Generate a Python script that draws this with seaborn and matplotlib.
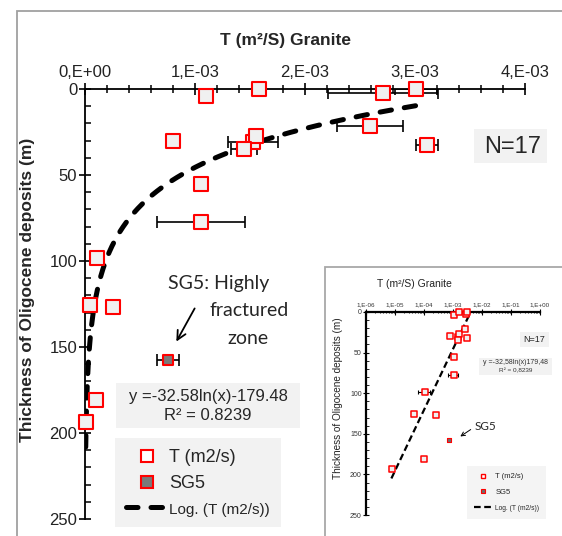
"""
Transmissivity vs thickness of Oligocene deposits (granite)
"""

import numpy as np
import pandas as pd
import matplotlib
matplotlib.use("Agg")
import matplotlib.pyplot as plt
import matplotlib.ticker as mticker
from matplotlib.patches import Rectangle
from matplotlib.lines import Line2D
import seaborn as sns

# Data
t_vals = [1.10e-3, 1.585e-3, 2.706e-3, 3.009e-3, 0.803e-3, 1.527e-3, 1.555e-3,
          1.448e-3, 2.59e-3, 3.106e-3, 1.055e-3, 1.055e-3, 0.110e-3, 0.045e-3,
          0.250e-3, 0.100e-3, 0.008e-3]
depth = [4, 0, 2.5, 0, 30, 30.6, 27.3, 34.9, 21.5, 32.6, 55.2, 77.1, 98,
         125.6, 126.5, 180.8, 193.8]
t_err = [0, 0, 0.5e-3, 0.19e-3, 0, 0.23e-3, 0, 0.12e-3, 0.3e-3, 0.1e-3, 0,
         0.4e-3, 0.05e-3, 0, 0, 0, 0]

sg5_t = [0.757e-3]
sg5_depth = [157.6]
sg5_err = [0.1e-3]

# log trend y = a*ln(x) + b
fit_a = -32.58
fit_b = -179.48
fit_range_main = (6.8e-6, 3.1e-3)
fit_range_inset = (7.5e-6, 3.7e-3)

x_ticks = [0, 1e-3, 2e-3, 3e-3, 4e-3]
x_tick_labels = ['0,E+00', '1,E-03', '2,E-03', '3,E-03', '4,E-03']
y_ticks = [0, 50, 100, 150, 200, 250]
log_ticks = [1e-6, 1e-5, 1e-4, 1e-3, 1e-2, 1e-1, 1e0]
log_tick_labels = ['1,E-06', '1,E-05', '1,E-04', '1,E-03', '1,E-02', '1,E-01', '1,E+00']

df = pd.DataFrame({'T': t_vals, 'depth': depth, 'err': t_err})
sg5 = pd.DataFrame({'T': sg5_t, 'depth': sg5_depth, 'err': sg5_err})


def trend(lo, hi):
    x = np.geomspace(lo, hi, 300)
    return pd.DataFrame({'T': x, 'depth': fit_a * np.log(x) + fit_b})


sns.set_theme(style='white')
plt.rcParams['font.family'] = ['Liberation Sans', 'DejaVu Sans']

W, H = 562, 536
fig = plt.figure(figsize=(W / 100, H / 100), dpi=100)

RED = '#ff0000'
FACE = '#f0f0f0'
BOX = '#f2f2f2'

# outer frame
fig.add_artist(Rectangle((17 / W, -0.01), 1, 1 - 11 / H + 0.01, transform=fig.transFigure,
                         fill=False, edgecolor='#a0a0a0', lw=1.3, zorder=-1))

# ---------------- main axes ----------------
ax = fig.add_axes([85 / W, 1 - 519 / H, 440 / W, 430 / H])
ax.set_facecolor('none')

tr = trend(*fit_range_main)
sns.lineplot(data=tr, x='T', y='depth', ax=ax, color='black', lw=3.6, sort=False,
             zorder=2, estimator=None)
ax.lines[-1].set_dashes((2.3, 2.6))
ax.lines[-1].set_dash_capstyle('round')

ax.errorbar(df['T'], df['depth'], xerr=df['err'], fmt='none', ecolor='black',
            elinewidth=1.2, capsize=4, capthick=1.2, zorder=3)
ax.errorbar(sg5['T'], sg5['depth'], xerr=sg5['err'], fmt='none', ecolor='black',
            elinewidth=1.2, capsize=4, capthick=1.2, zorder=3)
sns.scatterplot(data=df, x='T', y='depth', ax=ax, marker='s', s=100, color=FACE,
                edgecolor=RED, linewidth=1.5, zorder=4, clip_on=False)
sns.scatterplot(data=sg5, x='T', y='depth', ax=ax, marker='s', s=55, color='#7a7a7a',
                edgecolor=RED, linewidth=1.5, zorder=4)

ax.set_xlim(0, 4e-3)
ax.set_ylim(250, 0)
ax.xaxis.tick_top()
ax.set_xticks(x_ticks)
ax.set_xticklabels(x_tick_labels)
ax.xaxis.set_minor_locator(mticker.MultipleLocator(0.2e-3))
ax.set_yticks(y_ticks)
ax.yaxis.set_minor_locator(mticker.MultipleLocator(10))
ax.set_xlabel('')
ax.set_ylabel('')
for s in ['right', 'bottom']:
    ax.spines[s].set_visible(False)
for s in ['top', 'left']:
    ax.spines[s].set_color('black')
    ax.spines[s].set_linewidth(1.3)
ax.tick_params(axis='x', which='major', direction='inout', length=9, width=1.2,
               labelsize=12, pad=2, colors='black', top=True, bottom=False)
ax.tick_params(axis='x', which='minor', direction='inout', length=6, width=1.1,
               top=True, bottom=False, colors='black')
ax.tick_params(axis='y', which='major', direction='inout', length=9, width=1.2,
               labelsize=12, pad=1, colors='black', left=True)
ax.tick_params(axis='y', which='minor', direction='in', length=4, width=1.1,
               left=True, colors='black')
for lbl in ax.get_xticklabels() + ax.get_yticklabels():
    lbl.set_color('#222222')

fig.text(285 / W, 1 - 40 / H, 'T (m²/S) Granite', ha='center', va='center',
         fontsize=12.5, fontweight='bold')
fig.text(28 / W, 1 - 290 / H, 'Thickness of Oligocene deposits (m)', ha='center',
         va='center', rotation=90, fontsize=12.5, fontweight='bold')

# N=17 box
fig.add_artist(Rectangle((474 / W, 1 - 163 / H), 73 / W, 34 / H, transform=fig.transFigure,
                         facecolor=BOX, edgecolor='none', zorder=1))
fig.text(513 / W, 1 - 147 / H, 'N=17', ha='center', va='center', fontsize=17, zorder=2)

# SG5 annotation
ann_font = ['Lato', 'DejaVu Sans']
fig.text(168 / W, 1 - 283 / H, 'SG5: Highly', fontsize=14, family=ann_font, va='center')
fig.text(209 / W, 1 - 311 / H, 'fractured', fontsize=14, family=ann_font, va='center')
fig.text(227 / W, 1 - 338 / H, 'zone', fontsize=14, family=ann_font, va='center')
ax.annotate('', xy=(175 / W, 1 - 344 / H), xytext=(196 / W, 1 - 306 / H),
            xycoords='figure fraction', textcoords='figure fraction',
            arrowprops=dict(arrowstyle='->', color='black', lw=1.3,
                            mutation_scale=16))

# equation box
fig.add_artist(Rectangle((116 / W, 1 - 428 / H), 184 / W, 45 / H, transform=fig.transFigure,
                         facecolor=BOX, edgecolor='none', zorder=1))
fig.text(208 / W, 1 - 397 / H, 'y =-32.58ln(x)-179.48', ha='center', va='center',
         fontsize=12, zorder=2)
fig.text(208 / W, 1 - 416 / H, 'R² = 0.8239', ha='center', va='center',
         fontsize=12, zorder=2)

# main legend
handles = [
    Line2D([], [], ls='none', marker='s', markersize=9, markerfacecolor='white',
           markeredgecolor=RED, markeredgewidth=1.5),
    Line2D([], [], ls='none', marker='s', markersize=9, markerfacecolor='#7a7a7a',
           markeredgecolor=RED, markeredgewidth=1.5),
    Line2D([], [], color='black', lw=3.6, dashes=(2.3, 2.6), dash_capstyle='round'),
]
leg = fig.legend(handles, ['T (m2/s)', 'SG5', 'Log. (T (m2/s))'],
                 loc='upper left', bbox_to_anchor=(115 / W, 1 - 438 / H),
                 frameon=True, facecolor=BOX, edgecolor='none', fancybox=False,
                 fontsize=13, handlelength=2.3, handletextpad=0.1, labelspacing=0.5,
                 borderpad=0.6, borderaxespad=0)
leg.get_texts()[2].set_fontsize(11)
leg.get_frame().set_alpha(1)

# ---------------- inset ----------------
fig.add_artist(Rectangle((325 / W, -0.01), 1, (536 - 267) / H + 0.01,
                         transform=fig.transFigure, facecolor='white',
                         edgecolor='#a8a8a8', lw=1.3, zorder=5))

ax2 = fig.add_axes([366 / W, 1 - 515 / H, 174 / W, 203 / H], zorder=6)
ax2.set_facecolor('none')
tr2 = trend(*fit_range_inset)
sns.lineplot(data=tr2, x='T', y='depth', ax=ax2, color='black', lw=1.6, sort=False,
             estimator=None, zorder=2)
ax2.lines[-1].set_dashes((3.0, 1.6))
ax2.errorbar(df['T'], df['depth'], xerr=df['err'], fmt='none', ecolor='black',
             elinewidth=0.8, capsize=1.5, capthick=0.8, zorder=3)
sns.scatterplot(data=df, x='T', y='depth', ax=ax2, marker='s', s=22, color=FACE,
                edgecolor=RED, linewidth=1.1, zorder=4, clip_on=False)
sns.scatterplot(data=sg5, x='T', y='depth', ax=ax2, marker='s', s=12, color='#6e6e6e',
                edgecolor=RED, linewidth=0.8, zorder=4)
ax2.set_xscale('log')
ax2.set_xlim(1e-6, 1)
ax2.set_ylim(250, 0)
ax2.xaxis.tick_top()
ax2.set_xticks(log_ticks)
ax2.set_xticklabels(log_tick_labels)
ax2.xaxis.set_minor_locator(mticker.LogLocator(base=10, subs=np.arange(2, 10) / 1.0, numticks=20))
ax2.xaxis.set_minor_formatter(mticker.NullFormatter())
ax2.set_yticks(y_ticks)
ax2.yaxis.set_minor_locator(mticker.MultipleLocator(10))
ax2.set_xlabel('')
ax2.set_ylabel('')
for s in ['right', 'bottom']:
    ax2.spines[s].set_visible(False)
for s in ['top', 'left']:
    ax2.spines[s].set_color('black')
    ax2.spines[s].set_linewidth(1.6)
ax2.tick_params(axis='x', which='major', direction='inout', length=4, width=0.8,
                labelsize=4.5, pad=1.5, top=True, bottom=False, colors='black')
ax2.tick_params(axis='x', which='minor', direction='inout', length=2, width=0.6,
                top=True, bottom=False, colors='black')
ax2.tick_params(axis='y', which='major', direction='inout', length=4, width=0.8,
                labelsize=5, pad=1, left=True, colors='black')
ax2.tick_params(axis='y', which='minor', direction='in', length=2, width=0.6,
                left=True, colors='black')
for lbl in ax2.get_xticklabels() + ax2.get_yticklabels():
    lbl.set_color('#333333')

fig.text(414 / W, 1 - 284 / H, 'T (m²/S) Granite', ha='center', va='center',
         fontsize=7.5, zorder=7, color='#222222')
fig.text(338 / W, 1 - 398 / H, 'Thickness of Oligocene deposits (m)', ha='center',
         va='center', rotation=90, fontsize=7.2, zorder=7, color='#222222')

fig.add_artist(Rectangle((520 / W, 1 - 347 / H), 29 / W, 15 / H, transform=fig.transFigure,
                         facecolor=BOX, edgecolor='none', zorder=7))
fig.text(534.5 / W, 1 - 339.5 / H, 'N=17', ha='center', va='center', fontsize=6.5, zorder=8)

fig.add_artist(Rectangle((479 / W, 1 - 375 / H), 73 / W, 17 / H, transform=fig.transFigure,
                         facecolor=BOX, edgecolor='none', zorder=7))
fig.text(515.5 / W, 1 - 363 / H, 'y =-32,58ln(x)179,48', ha='center', va='center',
         fontsize=5, zorder=8, color='#333333')
fig.text(515.5 / W, 1 - 370.5 / H, 'R² = 0,8239', ha='center', va='center',
         fontsize=4.6, zorder=8, color='#333333')

fig.text(475 / W, 1 - 427 / H, 'SG5', ha='left', va='center', fontsize=8.5,
         family=ann_font, zorder=8)
ax2.annotate('', xy=(458 / W, 1 - 438 / H), xytext=(473 / W, 1 - 428 / H),
             xycoords='figure fraction', textcoords='figure fraction',
             arrowprops=dict(arrowstyle='->', color='black', lw=0.7, mutation_scale=7),
             zorder=8)

handles2 = [
    Line2D([], [], ls='none', marker='s', markersize=3.5, markerfacecolor='white',
           markeredgecolor=RED, markeredgewidth=1.0),
    Line2D([], [], ls='none', marker='s', markersize=3.5, markerfacecolor='#6e6e6e',
           markeredgecolor=RED, markeredgewidth=0.8),
    Line2D([], [], color='black', lw=1.6, dashes=(3.0, 1.6)),
]
leg2 = fig.legend(handles2, ['T (m2/s)', 'SG5', 'Log. (T (m2/s))'],
                  loc='upper left', bbox_to_anchor=(467 / W, 1 - 466 / H),
                  frameon=True, facecolor=BOX, edgecolor='none', fancybox=False,
                  fontsize=5.5, handlelength=2.4, handletextpad=0.4, labelspacing=1.1,
                  borderpad=0.9, borderaxespad=0)
leg2.set_zorder(9)
leg2.get_texts()[2].set_fontsize(4.8)

fig.savefig('out.png', dpi=100)
plt.close(fig)
print("saved out.png")
